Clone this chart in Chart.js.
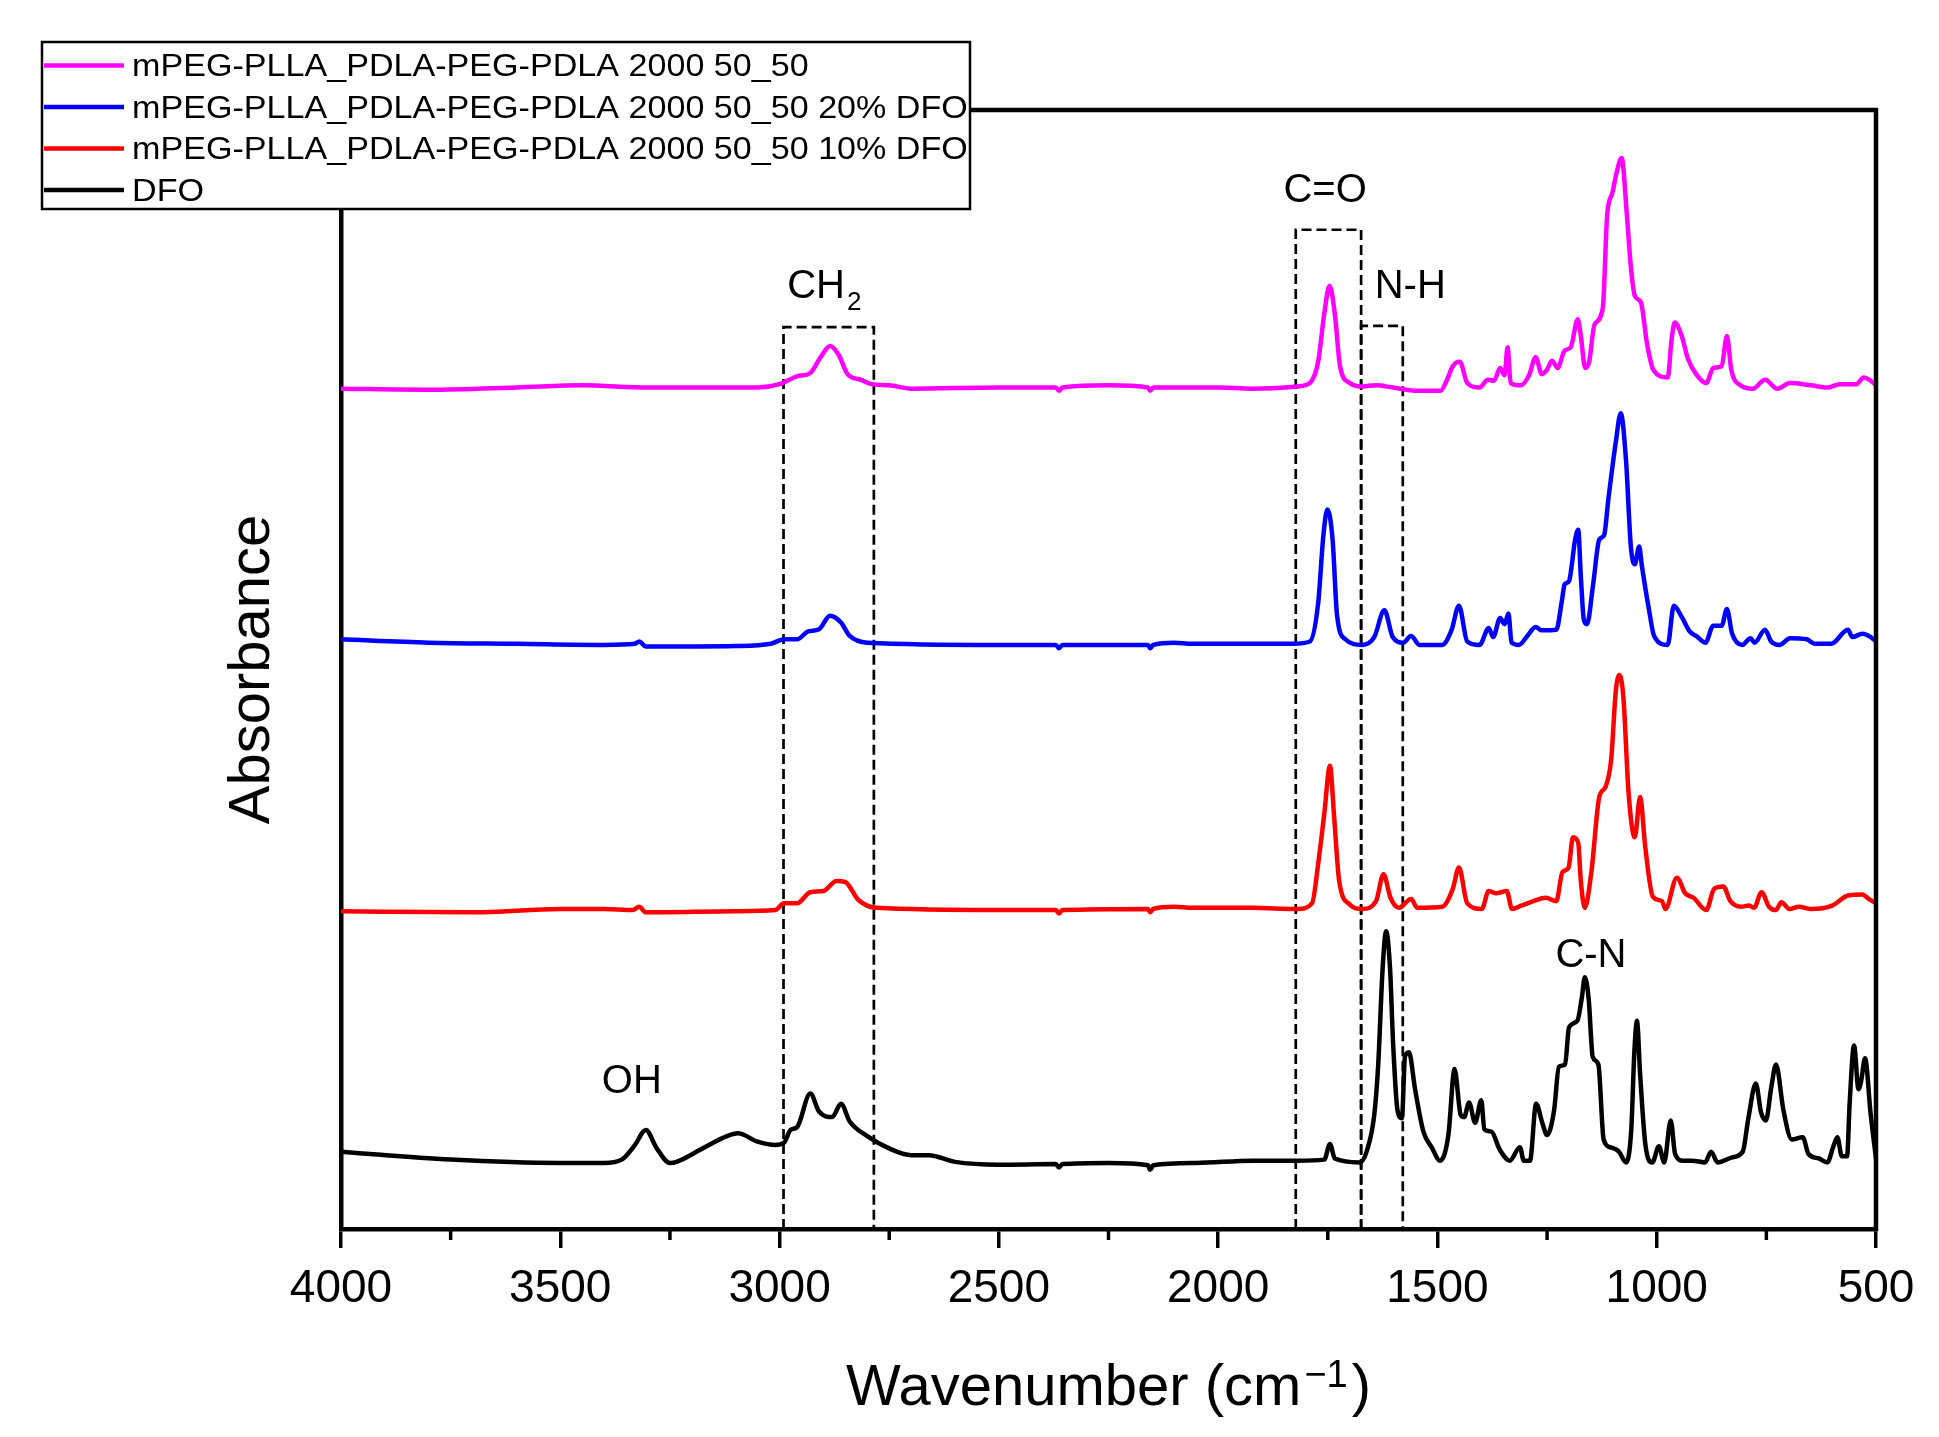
<!DOCTYPE html>
<html lang="en">
<head>
<meta charset="UTF-8">
<title>FTIR spectra</title>
<script src="https://cdn.jsdelivr.net/npm/chart.js"></script>
<style>
    html, body { margin: 0; padding: 0; background: #fff; overflow: hidden; }
    #wrap { width: 1939px; height: 1437px; position: relative; }
</style>
</head>
<body>
<div id="wrap"><canvas id="ftirChart"></canvas></div>
<script>
// spectra: wavenumber (cm-1) and offset absorbance (0-100 = plot height)
const mpegWn = [4000, 3800, 3600, 3450, 3300, 3050, 3000, 2960, 2930, 2905, 2885, 2865, 2845, 2815, 2790, 2750, 2700, 2500, 2370, 2363, 2355, 2250, 2160, 2155, 2148, 2000,
    1923, 1819, 1791, 1772, 1758, 1746, 1734, 1722, 1700, 1672, 1640, 1602, 1545, 1493, 1479, 1465, 1449, 1432, 1404, 1385, 1371, 1357, 1347, 1340, 1333, 1310,
    1291, 1276, 1262, 1250, 1239, 1226, 1210, 1196, 1180, 1173, 1163, 1154, 1142, 1123, 1113, 1101, 1092, 1080, 1068, 1059, 1050, 1036, 1022, 1008, 975, 966,
    959, 943, 929, 910, 887, 871, 852, 840, 830, 809, 781, 753, 725, 696, 649, 611, 583, 545, 528, 512, 500];
const mpegAbs = [75.1, 75.0, 75.2, 75.4, 75.2, 75.2, 75.5, 76.2, 76.5, 78.0, 78.9, 78.1, 76.4, 75.9, 75.5, 75.4, 75.1, 75.2, 75.2, 74.9, 75.2, 75.4, 75.2, 74.9, 75.2, 75.2,
    75.1, 75.3, 75.6, 77.5, 81.8, 84.3, 81.8, 77.1, 75.6, 75.3, 75.4, 75.2, 74.9, 74.9, 75.8, 77.1, 77.5, 75.6, 75.2, 75.9, 75.8, 76.95, 76.3, 78.8, 75.6, 75.4,
    76.3, 77.9, 76.4, 76.8, 77.6, 76.95, 78.5, 78.8, 81.3, 79.8, 76.95, 77.5, 80.8, 82.3, 90.6, 92.6, 94.3, 95.7, 90.6, 86.0, 83.4, 82.8, 79.1, 76.8, 76.1, 79.5,
    81.0, 79.8, 77.8, 76.4, 75.6, 76.95, 77.1, 79.8, 76.8, 75.4, 75.1, 75.9, 75.1, 75.6, 75.4, 75.2, 75.5, 75.5, 76.1, 75.8, 75.4];

const dfo20Wn = [4000, 3800, 3600, 3400, 3330, 3320, 3305, 3100, 3020, 2990, 2960, 2935, 2910, 2885, 2860, 2840, 2800, 2500, 2370, 2363, 2355, 2160, 2155, 2148, 2100, 2060,
    1923, 1828, 1791, 1772, 1760, 1751, 1739, 1729, 1710, 1672, 1644, 1621, 1602, 1578, 1560, 1541, 1489, 1468, 1451, 1432, 1404, 1383, 1373, 1357, 1347, 1338,
    1331, 1314, 1295, 1276, 1262, 1229, 1216, 1210, 1200, 1186, 1179, 1173, 1166, 1159, 1145, 1131, 1120, 1110, 1093, 1082, 1070, 1059, 1050, 1040, 1034, 1017,
    1006, 975, 961, 943, 925, 910, 889, 871, 852, 840, 828, 805, 786, 777, 753, 739, 720, 696, 658, 640, 602, 564, 554, 531, 512, 500];
const dfo20Abs = [52.7, 52.4, 52.3, 52.2, 52.3, 52.5, 52.05, 52.1, 52.3, 52.7, 52.7, 53.4, 53.6, 54.8, 54.2, 53.0, 52.4, 52.2, 52.2, 51.9, 52.2, 52.2, 51.9, 52.2, 52.4, 52.3,
    52.3, 52.3, 52.5, 55.9, 62.0, 64.3, 61.6, 54.9, 52.7, 52.2, 52.9, 55.3, 52.9, 52.4, 53.0, 52.2, 52.2, 53.5, 55.7, 52.5, 52.2, 53.7, 52.9, 54.6, 54.05, 55.0,
    52.4, 52.2, 53.0, 53.8, 53.5, 53.55, 56.2, 57.6, 57.9, 61.6, 62.5, 58.3, 54.4, 54.05, 57.6, 61.6, 62.0, 65.3, 70.4, 72.9, 68.7, 61.0, 59.4, 61.0, 59.3, 55.2,
    53.0, 52.2, 55.7, 54.7, 53.4, 53.0, 52.4, 53.9, 53.9, 55.4, 53.2, 52.2, 52.8, 52.4, 53.55, 52.5, 52.2, 52.8, 52.7, 52.3, 52.3, 53.55, 52.9, 53.2, 52.9, 52.5];

const dfo10Wn = [4000, 3700, 3500, 3400, 3335, 3320, 3305, 3100, 3010, 2990, 2960, 2930, 2900, 2870, 2850, 2820, 2780, 2500, 2370, 2363, 2355, 2160, 2155, 2148, 2100, 2060,
    1923, 1819, 1786, 1772, 1758, 1745, 1736, 1724, 1700, 1672, 1640, 1623, 1607, 1588, 1560, 1546, 1489, 1465, 1451, 1432, 1399, 1383, 1366, 1342, 1330, 1309,
    1281, 1253, 1229, 1215, 1201, 1191, 1179, 1173, 1164, 1149, 1131, 1117, 1104, 1093, 1085, 1076, 1064, 1050, 1038, 1026, 1009, 988, 980, 954, 935, 916, 887,
    869, 848, 832, 808, 789, 778, 761, 744, 728, 716, 697, 676, 648, 600, 564, 531, 517, 500];
const dfo10Abs = [28.4, 28.3, 28.6, 28.6, 28.5, 28.8, 28.3, 28.4, 28.5, 29.1, 29.1, 30.1, 30.2, 31.1, 31.0, 29.4, 28.7, 28.5, 28.5, 28.2, 28.5, 28.6, 28.3, 28.6, 28.8, 28.7,
    28.7, 28.6, 29.1, 32.6, 37.1, 41.4, 37.1, 31.1, 29.0, 28.6, 29.3, 31.7, 29.6, 28.7, 29.5, 28.7, 28.8, 30.4, 32.3, 29.1, 28.6, 30.2, 30.0, 30.2, 28.6, 28.9,
    29.3, 29.6, 29.3, 31.9, 32.3, 35.0, 34.5, 31.1, 28.7, 31.9, 38.6, 39.5, 41.9, 48.2, 49.5, 47.5, 38.9, 35.0, 38.6, 34.1, 29.7, 29.3, 28.6, 31.4, 30.0, 29.6, 28.5,
    30.4, 30.6, 29.3, 28.8, 28.9, 28.7, 30.1, 28.8, 28.5, 29.2, 28.6, 28.8, 28.6, 28.9, 29.8, 29.9, 29.5, 29.1];

const dfoWn = [4000, 3750, 3500, 3400, 3360, 3330, 3305, 3280, 3250, 3235, 3180, 3120, 3095, 3050, 3010, 2990, 2975, 2960, 2930, 2910, 2880, 2860, 2840, 2800, 2750, 2700,
    2660, 2600, 2500, 2370, 2363, 2355, 2250, 2160, 2155, 2148, 2050, 1923, 1819, 1758, 1745, 1734, 1677, 1660, 1644, 1635, 1625, 1617, 1608, 1601, 1591, 1581,
    1574, 1565, 1551, 1532, 1513, 1494, 1475, 1461, 1447, 1439, 1428, 1414, 1400, 1393, 1377, 1358, 1335, 1312, 1303, 1289, 1275, 1261, 1250, 1234, 1223, 1209,
    1200, 1181, 1171, 1164, 1155, 1146, 1133, 1121, 1105, 1086, 1070, 1058, 1051, 1045, 1038, 1026, 1010, 995, 983, 968, 958, 940, 919, 890, 876, 861, 828, 804,
    791, 774, 762, 751, 739, 728, 711, 692, 667, 654, 630, 611, 597, 588, 578, 566, 560, 550, 540, 534, 525, 512, 500];
const dfoAbs = [6.9, 6.2, 5.9, 5.9, 6.2, 7.5, 8.85, 7.2, 5.9, 6.0, 7.1, 8.3, 8.55, 7.8, 7.5, 7.7, 8.85, 9.1, 12.1, 10.5, 10.0, 11.2, 9.6, 8.3, 7.2, 6.6,
    6.6, 6.0, 5.75, 5.8, 5.5, 5.8, 5.9, 5.7, 5.3, 5.7, 5.9, 6.1, 6.1, 6.2, 7.6, 6.3, 5.95, 7.1, 10.2, 14.7, 23.25, 26.6, 23.25, 16.55, 10.6, 9.9,
    15.4, 15.8, 12.5, 8.7, 7.3, 6.1, 8.4, 14.3, 10.2, 10.0, 11.3, 9.5, 11.5, 8.9, 8.7, 7.1, 6.1, 7.3, 6.1, 6.1, 11.2, 9.5, 8.4, 10.6, 14.5, 14.7,
    18.0, 18.6, 20.6, 22.5, 20.5, 15.4, 14.7, 8.0, 7.3, 6.9, 5.95, 8.9, 15.8, 18.6, 13.95, 7.6, 5.95, 7.4, 5.95, 9.7, 6.7, 6.1, 6.1, 5.95, 6.9, 5.95, 6.4, 6.9,
    9.9, 13.0, 10.4, 9.7, 12.6, 14.7, 10.6, 8.0, 8.2, 6.7, 6.3, 5.95, 7.4, 8.2, 6.5, 6.5, 11.3, 16.4, 12.5, 13.2, 15.25, 10.2, 6.3];

const seriesNames = ['mPEG-PLLA_PDLA-PEG-PDLA 2000 50_50', 'mPEG-PLLA_PDLA-PEG-PDLA 2000 50_50 20% DFO',
    'mPEG-PLLA_PDLA-PEG-PDLA 2000 50_50 10% DFO', 'DFO'];
const seriesColors = ['#ff00ff', '#0000ff', '#ff0000', '#000000'];
const seriesWn = [mpegWn, dfo20Wn, dfo10Wn, dfoWn];
const seriesAbs = [mpegAbs, dfo20Abs, dfo10Abs, dfoAbs];

const tickValues = [4000, 3500, 3000, 2500, 2000, 1500, 1000, 500];
const minorTicks = [3750, 3250, 2750, 2250, 1750, 1250, 750];

// dashed band boxes
const bandFrom = [2991, 1823, 1674];
const bandTo = [2785, 1674, 1579];
const bandTop = [80.6, 89.3, 80.7];

// band labels (text baseline position)
const labelText = ['OH', 'C=O', 'N-H', 'C-N'];
const labelWn = [3337, 1756, 1562, 1150];
const labelAbs = [12.15, 91.8, 83.2, 23.4];
const ch2Wn = 2898, ch2Abs = 83.2;

const FONT = '"Liberation Sans", Arial, sans-serif';

const datasets = seriesNames.map((name, i) => ({
    label: name,
    data: seriesWn[i].map((w, k) => ({ x: w, y: seriesAbs[i][k] })),
    borderColor: seriesColors[i],
    borderWidth: 4.5,
    pointRadius: 0,
    cubicInterpolationMode: 'monotone',
    fill: false
}));
bandFrom.forEach((f, i) => {
    datasets.push({
        label: 'band' + i,
        data: [{ x: f, y: 0 }, { x: f, y: bandTop[i] }, { x: bandTo[i], y: bandTop[i] }, { x: bandTo[i], y: 0 }],
        borderColor: '#000',
        borderWidth: 2.7,
        borderDash: [10, 5],
        pointRadius: 0,
        tension: 0,
        fill: false
    });
});

const decor = {
    id: 'decor',
    afterDraw(chart) {
        const { ctx, chartArea: a, scales: { x, y } } = chart;
        ctx.save();
        ctx.strokeStyle = '#000';
        ctx.fillStyle = '#000';
        ctx.setLineDash([]);

        // top + right frame
        ctx.lineWidth = 4.5;
        ctx.beginPath();
        ctx.moveTo(a.left - 2.25, a.top);
        ctx.lineTo(a.right, a.top);
        ctx.lineTo(a.right, a.bottom + 2.25);
        ctx.stroke();

        // minor ticks
        ctx.lineWidth = 3.5;
        minorTicks.forEach(v => {
            const px = x.getPixelForValue(v);
            ctx.beginPath();
            ctx.moveTo(px, a.bottom);
            ctx.lineTo(px, a.bottom + 11);
            ctx.stroke();
        });

        // band labels
        ctx.font = '40px ' + FONT;
        ctx.textAlign = 'center';
        ctx.textBaseline = 'alphabetic';
        labelText.forEach((t, i) => {
            ctx.fillText(t, x.getPixelForValue(labelWn[i]), y.getPixelForValue(labelAbs[i]));
        });
        // CH2 with subscript
        const chW = ctx.measureText('CH').width;
        ctx.font = '26px ' + FONT;
        const subW = ctx.measureText('2').width;
        const cx = x.getPixelForValue(ch2Wn), by = y.getPixelForValue(ch2Abs);
        const sx = cx - (chW + 2 + subW) / 2;
        ctx.textAlign = 'left';
        ctx.fillText('2', sx + chW + 2, by + 12);
        ctx.font = '40px ' + FONT;
        ctx.fillText('CH', sx, by);

        // x title with superscript
        ctx.font = '58px ' + FONT;
        const t1 = 'Wavenumber (cm', t3 = ')';
        const w1 = ctx.measureText(t1).width, w3 = ctx.measureText(t3).width;
        ctx.font = '38px ' + FONT;
        const w2 = ctx.measureText('\u22121').width;
        const total = w1 + 3 + w2 + 4 + w3;
        let tx = (a.left + a.right) / 2 - total / 2;
        const ty = 1405;
        ctx.font = '58px ' + FONT;
        ctx.fillText(t1, tx, ty);
        ctx.font = '38px ' + FONT;
        ctx.fillText('\u22121', tx + w1 + 3, ty - 18);
        ctx.font = '58px ' + FONT;
        ctx.fillText(t3, tx + w1 + 3 + w2 + 4, ty);

        // y title
        ctx.save();
        ctx.translate(253, (a.top + a.bottom) / 2);
        ctx.rotate(-Math.PI / 2);
        ctx.textAlign = 'center';
        ctx.textBaseline = 'middle';
        ctx.font = '58px ' + FONT;
        ctx.fillText('Absorbance', 0, 0);
        ctx.restore();

        // legend box
        const lx = 42, ly = 42, lw = 928, lh = 167;
        ctx.fillStyle = '#fff';
        ctx.fillRect(lx, ly, lw, lh);
        ctx.lineWidth = 2.5;
        ctx.strokeStyle = '#000';
        ctx.strokeRect(lx, ly, lw, lh);
        const rows = [65.5, 107, 148.5, 190];
        seriesNames.forEach((name, i) => {
            ctx.strokeStyle = seriesColors[i];
            ctx.lineWidth = 4.5;
            ctx.beginPath();
            ctx.moveTo(44, rows[i]);
            ctx.lineTo(124, rows[i]);
            ctx.stroke();
            ctx.save();
            ctx.translate(132, rows[i] + 2);
            ctx.scale(1.1, 1);
            ctx.fillStyle = '#000';
            ctx.font = '31px ' + FONT;
            ctx.textAlign = 'left';
            ctx.textBaseline = 'middle';
            ctx.fillText(name, 0, 0);
            ctx.restore();
        });
        ctx.restore();
    }
};

new Chart(document.getElementById('ftirChart'), {
    type: 'line',
    data: { datasets },
    options: {
        responsive: true,
        maintainAspectRatio: false,
        devicePixelRatio: 1,
        animation: false,
        events: [],
        layout: { padding: { left: 0, right: 63, top: 110, bottom: 0 } },
        plugins: { legend: { display: false }, tooltip: { enabled: false } },
        scales: {
            x: {
                type: 'linear',
                reverse: true,
                min: 500,
                max: 4000,
                afterBuildTicks: s => { s.ticks = tickValues.map(v => ({ value: v })); },
                afterFit: s => { s.height = 208; s.paddingLeft = 0; s.paddingRight = 0; },
                ticks: {
                    callback: v => String(v),
                    color: '#000',
                    font: { size: 46, family: FONT },
                    padding: 14,
                    maxRotation: 0,
                    autoSkip: false
                },
                grid: { drawOnChartArea: false, drawTicks: true, tickLength: 19, tickWidth: 3.5, tickColor: '#000', lineWidth: 3.5, color: '#000' },
                border: { display: true, color: '#000', width: 4.5 }
            },
            y: {
                min: 0,
                max: 100,
                afterFit: s => { s.width = 341; },
                ticks: { display: false },
                grid: { display: false },
                border: { display: true, color: '#000', width: 4.5 }
            }
        }
    },
    plugins: [decor]
});
</script>
</body>
</html>
